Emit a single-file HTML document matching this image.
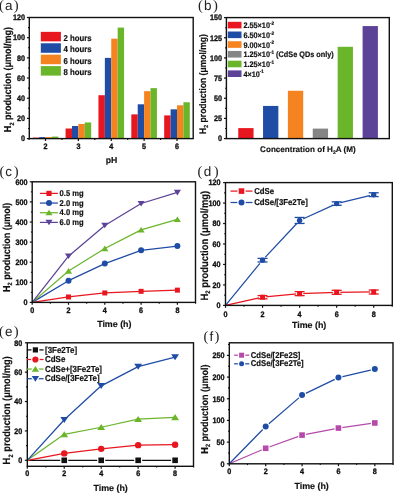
<!DOCTYPE html><html><head><meta charset="utf-8"><style>html,body{margin:0;padding:0;background:#fff;width:394px;height:493px;overflow:hidden}svg{display:block;filter:blur(0.25px)}</style></head><body>
<svg width="394" height="493" viewBox="0 0 394 493" font-family='"Liberation Sans", sans-serif' text-rendering="geometricPrecision">
<rect width="394" height="493" fill="#fff"/>
<rect x="32.70" y="137.59" width="6.40" height="1.01" fill="#e8161f"/>
<rect x="39.10" y="137.09" width="6.40" height="1.51" fill="#1f4ca5"/>
<rect x="45.50" y="137.09" width="6.40" height="1.51" fill="#f5831f"/>
<rect x="51.90" y="136.58" width="6.40" height="2.02" fill="#6bb52b"/>
<rect x="65.58" y="128.51" width="6.40" height="10.09" fill="#e8161f"/>
<rect x="71.98" y="125.99" width="6.40" height="12.61" fill="#1f4ca5"/>
<rect x="78.38" y="123.97" width="6.40" height="14.63" fill="#f5831f"/>
<rect x="84.78" y="122.45" width="6.40" height="16.15" fill="#6bb52b"/>
<rect x="98.45" y="95.21" width="6.40" height="43.39" fill="#e8161f"/>
<rect x="104.85" y="57.87" width="6.40" height="80.73" fill="#1f4ca5"/>
<rect x="111.25" y="38.69" width="6.40" height="99.91" fill="#f5831f"/>
<rect x="117.65" y="27.59" width="6.40" height="111.01" fill="#6bb52b"/>
<rect x="131.32" y="114.38" width="6.40" height="24.22" fill="#e8161f"/>
<rect x="137.72" y="104.29" width="6.40" height="34.31" fill="#1f4ca5"/>
<rect x="144.12" y="91.17" width="6.40" height="47.43" fill="#f5831f"/>
<rect x="150.52" y="88.14" width="6.40" height="50.46" fill="#6bb52b"/>
<rect x="164.20" y="115.39" width="6.40" height="23.21" fill="#e8161f"/>
<rect x="170.60" y="109.33" width="6.40" height="29.27" fill="#1f4ca5"/>
<rect x="177.00" y="105.30" width="6.40" height="33.30" fill="#f5831f"/>
<rect x="183.40" y="102.27" width="6.40" height="36.33" fill="#6bb52b"/>
<rect x="29.30" y="17.50" width="163.90" height="121.10" fill="none" stroke="#111" stroke-width="1.4"/>
<line x1="26.90" y1="138.60" x2="29.30" y2="138.60" stroke="#111" stroke-width="1.2"/>
<text transform="translate(25.00,141.35) scale(1,1.1)" font-size="7.2" text-anchor="end" font-weight="bold" fill="#111" stroke="#111" stroke-width="0.32" >0</text>
<line x1="26.90" y1="118.42" x2="29.30" y2="118.42" stroke="#111" stroke-width="1.2"/>
<text transform="translate(25.00,121.17) scale(1,1.1)" font-size="7.2" text-anchor="end" font-weight="bold" fill="#111" stroke="#111" stroke-width="0.32" >20</text>
<line x1="26.90" y1="98.23" x2="29.30" y2="98.23" stroke="#111" stroke-width="1.2"/>
<text transform="translate(25.00,100.98) scale(1,1.1)" font-size="7.2" text-anchor="end" font-weight="bold" fill="#111" stroke="#111" stroke-width="0.32" >40</text>
<line x1="26.90" y1="78.05" x2="29.30" y2="78.05" stroke="#111" stroke-width="1.2"/>
<text transform="translate(25.00,80.80) scale(1,1.1)" font-size="7.2" text-anchor="end" font-weight="bold" fill="#111" stroke="#111" stroke-width="0.32" >60</text>
<line x1="26.90" y1="57.87" x2="29.30" y2="57.87" stroke="#111" stroke-width="1.2"/>
<text transform="translate(25.00,60.62) scale(1,1.1)" font-size="7.2" text-anchor="end" font-weight="bold" fill="#111" stroke="#111" stroke-width="0.32" >80</text>
<line x1="26.90" y1="37.68" x2="29.30" y2="37.68" stroke="#111" stroke-width="1.2"/>
<text transform="translate(25.00,40.43) scale(1,1.1)" font-size="7.2" text-anchor="end" font-weight="bold" fill="#111" stroke="#111" stroke-width="0.32" >100</text>
<line x1="26.90" y1="17.50" x2="29.30" y2="17.50" stroke="#111" stroke-width="1.2"/>
<text transform="translate(25.00,20.25) scale(1,1.1)" font-size="7.2" text-anchor="end" font-weight="bold" fill="#111" stroke="#111" stroke-width="0.32" >120</text>
<line x1="28.00" y1="128.51" x2="29.30" y2="128.51" stroke="#111" stroke-width="1.1"/>
<line x1="28.00" y1="108.32" x2="29.30" y2="108.32" stroke="#111" stroke-width="1.1"/>
<line x1="28.00" y1="88.14" x2="29.30" y2="88.14" stroke="#111" stroke-width="1.1"/>
<line x1="28.00" y1="67.96" x2="29.30" y2="67.96" stroke="#111" stroke-width="1.1"/>
<line x1="28.00" y1="47.77" x2="29.30" y2="47.77" stroke="#111" stroke-width="1.1"/>
<line x1="28.00" y1="27.59" x2="29.30" y2="27.59" stroke="#111" stroke-width="1.1"/>
<line x1="45.50" y1="138.60" x2="45.50" y2="141.00" stroke="#111" stroke-width="1.2"/>
<text transform="translate(45.50,148.80) scale(1,1.1)" font-size="7.2" text-anchor="middle" font-weight="bold" fill="#111" stroke="#111" stroke-width="0.32" >2</text>
<line x1="78.38" y1="138.60" x2="78.38" y2="141.00" stroke="#111" stroke-width="1.2"/>
<text transform="translate(78.38,148.80) scale(1,1.1)" font-size="7.2" text-anchor="middle" font-weight="bold" fill="#111" stroke="#111" stroke-width="0.32" >3</text>
<line x1="111.25" y1="138.60" x2="111.25" y2="141.00" stroke="#111" stroke-width="1.2"/>
<text transform="translate(111.25,148.80) scale(1,1.1)" font-size="7.2" text-anchor="middle" font-weight="bold" fill="#111" stroke="#111" stroke-width="0.32" >4</text>
<line x1="144.12" y1="138.60" x2="144.12" y2="141.00" stroke="#111" stroke-width="1.2"/>
<text transform="translate(144.12,148.80) scale(1,1.1)" font-size="7.2" text-anchor="middle" font-weight="bold" fill="#111" stroke="#111" stroke-width="0.32" >5</text>
<line x1="177.00" y1="138.60" x2="177.00" y2="141.00" stroke="#111" stroke-width="1.2"/>
<text transform="translate(177.00,148.80) scale(1,1.1)" font-size="7.2" text-anchor="middle" font-weight="bold" fill="#111" stroke="#111" stroke-width="0.32" >6</text>
<line x1="29.06" y1="138.60" x2="29.06" y2="139.90" stroke="#111" stroke-width="1.1"/>
<line x1="61.94" y1="138.60" x2="61.94" y2="139.90" stroke="#111" stroke-width="1.1"/>
<line x1="94.81" y1="138.60" x2="94.81" y2="139.90" stroke="#111" stroke-width="1.1"/>
<line x1="127.69" y1="138.60" x2="127.69" y2="139.90" stroke="#111" stroke-width="1.1"/>
<line x1="160.56" y1="138.60" x2="160.56" y2="139.90" stroke="#111" stroke-width="1.1"/>
<rect x="40.8" y="31.85" width="20.1" height="9.5" fill="#e8161f"/>
<text transform="translate(63.40,40.75) scale(1,1.1)" font-size="7.8" text-anchor="start" font-weight="bold" fill="#111" stroke="#111" stroke-width="0.18" >2 hours</text>
<rect x="40.8" y="43.27" width="20.1" height="9.5" fill="#1f4ca5"/>
<text transform="translate(63.40,52.17) scale(1,1.1)" font-size="7.8" text-anchor="start" font-weight="bold" fill="#111" stroke="#111" stroke-width="0.18" >4 hours</text>
<rect x="40.8" y="54.69" width="20.1" height="9.5" fill="#f5831f"/>
<text transform="translate(63.40,63.59) scale(1,1.1)" font-size="7.8" text-anchor="start" font-weight="bold" fill="#111" stroke="#111" stroke-width="0.18" >6 hours</text>
<rect x="40.8" y="66.11" width="20.1" height="9.5" fill="#6bb52b"/>
<text transform="translate(63.40,75.01) scale(1,1.1)" font-size="7.8" text-anchor="start" font-weight="bold" fill="#111" stroke="#111" stroke-width="0.18" >8 hours</text>
<text transform="translate(111.45,162.80) scale(1,1.0)" font-size="8.7" text-anchor="middle" font-weight="bold" fill="#111" stroke="#111" stroke-width="0.15" >pH</text>
<text transform="translate(11.20,132.20) scale(1.12,1) rotate(-90)" font-size="9.0" font-weight="bold" fill="#111" stroke="#111" stroke-width="0.15">H<tspan font-size="5.58" dy="2.25" dx="0.2">2</tspan><tspan dy="-2.25"> production (μmol/mg)</tspan></text>
<text x="-1.00" y="10.20" font-size="13.5" fill="#222"><tspan font-family="Liberation Serif" font-size="14.58">(</tspan><tspan dx="1.1">a</tspan><tspan dx="1.3" font-family="Liberation Serif" font-size="14.58">)</tspan></text>
<rect x="238.25" y="128.11" width="15.3" height="10.49" fill="#e8161f"/>
<rect x="263.05" y="105.93" width="15.3" height="32.67" fill="#1f4ca5"/>
<rect x="287.90" y="90.76" width="15.3" height="47.84" fill="#f5831f"/>
<rect x="312.75" y="128.60" width="15.3" height="10.00" fill="#858585"/>
<rect x="337.65" y="46.80" width="15.3" height="91.80" fill="#6bb52b"/>
<rect x="362.60" y="26.07" width="15.3" height="112.53" fill="#5c4398"/>
<rect x="226.40" y="17.60" width="162.90" height="121.00" fill="none" stroke="#111" stroke-width="1.4"/>
<line x1="224.00" y1="138.60" x2="226.40" y2="138.60" stroke="#111" stroke-width="1.2"/>
<text transform="translate(221.90,141.35) scale(1,1.1)" font-size="7.2" text-anchor="end" font-weight="bold" fill="#111" stroke="#111" stroke-width="0.32" >0</text>
<line x1="224.00" y1="118.43" x2="226.40" y2="118.43" stroke="#111" stroke-width="1.2"/>
<text transform="translate(221.90,121.18) scale(1,1.1)" font-size="7.2" text-anchor="end" font-weight="bold" fill="#111" stroke="#111" stroke-width="0.32" >25</text>
<line x1="224.00" y1="98.27" x2="226.40" y2="98.27" stroke="#111" stroke-width="1.2"/>
<text transform="translate(221.90,101.02) scale(1,1.1)" font-size="7.2" text-anchor="end" font-weight="bold" fill="#111" stroke="#111" stroke-width="0.32" >50</text>
<line x1="224.00" y1="78.10" x2="226.40" y2="78.10" stroke="#111" stroke-width="1.2"/>
<text transform="translate(221.90,80.85) scale(1,1.1)" font-size="7.2" text-anchor="end" font-weight="bold" fill="#111" stroke="#111" stroke-width="0.32" >75</text>
<line x1="224.00" y1="57.93" x2="226.40" y2="57.93" stroke="#111" stroke-width="1.2"/>
<text transform="translate(221.90,60.68) scale(1,1.1)" font-size="7.2" text-anchor="end" font-weight="bold" fill="#111" stroke="#111" stroke-width="0.32" >100</text>
<line x1="224.00" y1="37.77" x2="226.40" y2="37.77" stroke="#111" stroke-width="1.2"/>
<text transform="translate(221.90,40.52) scale(1,1.1)" font-size="7.2" text-anchor="end" font-weight="bold" fill="#111" stroke="#111" stroke-width="0.32" >125</text>
<line x1="224.00" y1="17.60" x2="226.40" y2="17.60" stroke="#111" stroke-width="1.2"/>
<text transform="translate(221.90,20.35) scale(1,1.1)" font-size="7.2" text-anchor="end" font-weight="bold" fill="#111" stroke="#111" stroke-width="0.32" >150</text>
<line x1="225.10" y1="128.52" x2="226.40" y2="128.52" stroke="#111" stroke-width="1.1"/>
<line x1="225.10" y1="108.35" x2="226.40" y2="108.35" stroke="#111" stroke-width="1.1"/>
<line x1="225.10" y1="88.18" x2="226.40" y2="88.18" stroke="#111" stroke-width="1.1"/>
<line x1="225.10" y1="68.02" x2="226.40" y2="68.02" stroke="#111" stroke-width="1.1"/>
<line x1="225.10" y1="47.85" x2="226.40" y2="47.85" stroke="#111" stroke-width="1.1"/>
<line x1="225.10" y1="27.68" x2="226.40" y2="27.68" stroke="#111" stroke-width="1.1"/>
<rect x="227.8" y="21.80" width="13.7" height="6.6" fill="#e8161f"/>
<text transform="translate(243.4,28.30) scale(1,1.1)" font-size="7.3" font-weight="bold" fill="#111" stroke="#111" stroke-width="0.18">2.55×10<tspan font-size="4.6" dy="-3.2">-2</tspan><tspan dy="3.2"></tspan></text>
<rect x="227.8" y="31.52" width="13.7" height="6.6" fill="#1f4ca5"/>
<text transform="translate(243.4,38.02) scale(1,1.1)" font-size="7.3" font-weight="bold" fill="#111" stroke="#111" stroke-width="0.18">6.50×10<tspan font-size="4.6" dy="-3.2">-2</tspan><tspan dy="3.2"></tspan></text>
<rect x="227.8" y="41.24" width="13.7" height="6.6" fill="#f5831f"/>
<text transform="translate(243.4,47.74) scale(1,1.1)" font-size="7.3" font-weight="bold" fill="#111" stroke="#111" stroke-width="0.18">9.00×10<tspan font-size="4.6" dy="-3.2">-2</tspan><tspan dy="3.2"></tspan></text>
<rect x="227.8" y="50.96" width="13.7" height="6.6" fill="#858585"/>
<text transform="translate(243.4,57.46) scale(1,1.1)" font-size="7.3" font-weight="bold" fill="#111" stroke="#111" stroke-width="0.18">1.25×10<tspan font-size="4.6" dy="-3.2">-1</tspan><tspan dy="3.2"> (CdSe QDs only)</tspan></text>
<rect x="227.8" y="60.68" width="13.7" height="6.6" fill="#6bb52b"/>
<text transform="translate(243.4,67.18) scale(1,1.1)" font-size="7.3" font-weight="bold" fill="#111" stroke="#111" stroke-width="0.18">1.25×10<tspan font-size="4.6" dy="-3.2">-1</tspan><tspan dy="3.2"></tspan></text>
<rect x="227.8" y="70.40" width="13.7" height="6.6" fill="#5c4398"/>
<text transform="translate(243.4,76.90) scale(1,1.1)" font-size="7.3" font-weight="bold" fill="#111" stroke="#111" stroke-width="0.18">4×10<tspan font-size="4.6" dy="-3.2">-1</tspan><tspan dy="3.2"></tspan></text>
<text x="260.1" y="152.0" font-size="8.1" font-weight="bold" fill="#111" stroke="#111" stroke-width="0.15">Concentration of H<tspan font-size="5.2" dy="2.2">2</tspan><tspan dy="-2.2">A (M)</tspan></text>
<text transform="translate(205.60,134.10) scale(1.12,1) rotate(-90)" font-size="8.55" font-weight="bold" fill="#111" stroke="#111" stroke-width="0.15">H<tspan font-size="5.30" dy="2.14" dx="0.2">2</tspan><tspan dy="-2.14"> production (μmol/mg)</tspan></text>
<text x="198.10" y="10.20" font-size="13.5" fill="#222"><tspan font-family="Liberation Serif" font-size="14.58">(</tspan><tspan dx="1.1">b</tspan><tspan dx="1.3" font-family="Liberation Serif" font-size="14.58">)</tspan></text>
<polyline points="32.20,302.40 68.50,296.97 104.80,292.95 141.10,291.34 177.40,290.14" fill="none" stroke="#e8161f" stroke-width="1.25" stroke-linejoin="round"/>
<rect x="66.00" y="294.47" width="5.00" height="5.00" fill="#e8161f"/>
<rect x="102.30" y="290.45" width="5.00" height="5.00" fill="#e8161f"/>
<rect x="138.60" y="288.84" width="5.00" height="5.00" fill="#e8161f"/>
<rect x="174.90" y="287.64" width="5.00" height="5.00" fill="#e8161f"/>
<polyline points="32.20,302.40 68.50,280.69 104.80,263.61 141.10,250.34 177.40,246.12" fill="none" stroke="#1f4ca5" stroke-width="1.25" stroke-linejoin="round"/>
<circle cx="68.50" cy="280.69" r="3.00" fill="#1f4ca5"/>
<circle cx="104.80" cy="263.61" r="3.00" fill="#1f4ca5"/>
<circle cx="141.10" cy="250.34" r="3.00" fill="#1f4ca5"/>
<circle cx="177.40" cy="246.12" r="3.00" fill="#1f4ca5"/>
<polyline points="32.20,302.40 68.50,271.04 104.80,248.53 141.10,229.84 177.40,219.39" fill="none" stroke="#6bb52b" stroke-width="1.25" stroke-linejoin="round"/>
<path d="M64.92,273.67 L72.08,273.67 L68.50,268.12 Z" fill="#6bb52b"/>
<path d="M101.22,251.16 L108.38,251.16 L104.80,245.61 Z" fill="#6bb52b"/>
<path d="M137.52,232.46 L144.68,232.46 L141.10,226.91 Z" fill="#6bb52b"/>
<path d="M173.82,222.01 L180.98,222.01 L177.40,216.46 Z" fill="#6bb52b"/>
<polyline points="32.20,302.40 68.50,256.17 104.80,225.42 141.10,203.51 177.40,192.45" fill="none" stroke="#5c4398" stroke-width="1.25" stroke-linejoin="round"/>
<path d="M64.92,253.55 L72.08,253.55 L68.50,259.09 Z" fill="#5c4398"/>
<path d="M101.22,222.79 L108.38,222.79 L104.80,228.34 Z" fill="#5c4398"/>
<path d="M137.52,200.88 L144.68,200.88 L141.10,206.43 Z" fill="#5c4398"/>
<path d="M173.82,189.83 L180.98,189.83 L177.40,195.38 Z" fill="#5c4398"/>
<rect x="32.20" y="181.80" width="163.30" height="120.60" fill="none" stroke="#111" stroke-width="1.4"/>
<line x1="29.80" y1="302.40" x2="32.20" y2="302.40" stroke="#111" stroke-width="1.2"/>
<text transform="translate(27.40,305.15) scale(1,1.1)" font-size="7.2" text-anchor="end" font-weight="bold" fill="#111" stroke="#111" stroke-width="0.32" >0</text>
<line x1="29.80" y1="282.30" x2="32.20" y2="282.30" stroke="#111" stroke-width="1.2"/>
<text transform="translate(27.40,285.05) scale(1,1.1)" font-size="7.2" text-anchor="end" font-weight="bold" fill="#111" stroke="#111" stroke-width="0.32" >100</text>
<line x1="29.80" y1="262.20" x2="32.20" y2="262.20" stroke="#111" stroke-width="1.2"/>
<text transform="translate(27.40,264.95) scale(1,1.1)" font-size="7.2" text-anchor="end" font-weight="bold" fill="#111" stroke="#111" stroke-width="0.32" >200</text>
<line x1="29.80" y1="242.10" x2="32.20" y2="242.10" stroke="#111" stroke-width="1.2"/>
<text transform="translate(27.40,244.85) scale(1,1.1)" font-size="7.2" text-anchor="end" font-weight="bold" fill="#111" stroke="#111" stroke-width="0.32" >300</text>
<line x1="29.80" y1="222.00" x2="32.20" y2="222.00" stroke="#111" stroke-width="1.2"/>
<text transform="translate(27.40,224.75) scale(1,1.1)" font-size="7.2" text-anchor="end" font-weight="bold" fill="#111" stroke="#111" stroke-width="0.32" >400</text>
<line x1="29.80" y1="201.90" x2="32.20" y2="201.90" stroke="#111" stroke-width="1.2"/>
<text transform="translate(27.40,204.65) scale(1,1.1)" font-size="7.2" text-anchor="end" font-weight="bold" fill="#111" stroke="#111" stroke-width="0.32" >500</text>
<line x1="29.80" y1="181.80" x2="32.20" y2="181.80" stroke="#111" stroke-width="1.2"/>
<text transform="translate(27.40,184.55) scale(1,1.1)" font-size="7.2" text-anchor="end" font-weight="bold" fill="#111" stroke="#111" stroke-width="0.32" >600</text>
<line x1="30.90" y1="292.35" x2="32.20" y2="292.35" stroke="#111" stroke-width="1.1"/>
<line x1="30.90" y1="272.25" x2="32.20" y2="272.25" stroke="#111" stroke-width="1.1"/>
<line x1="30.90" y1="252.15" x2="32.20" y2="252.15" stroke="#111" stroke-width="1.1"/>
<line x1="30.90" y1="232.05" x2="32.20" y2="232.05" stroke="#111" stroke-width="1.1"/>
<line x1="30.90" y1="211.95" x2="32.20" y2="211.95" stroke="#111" stroke-width="1.1"/>
<line x1="30.90" y1="191.85" x2="32.20" y2="191.85" stroke="#111" stroke-width="1.1"/>
<line x1="32.20" y1="302.40" x2="32.20" y2="304.80" stroke="#111" stroke-width="1.2"/>
<text transform="translate(32.20,312.50) scale(1,1.1)" font-size="7.2" text-anchor="middle" font-weight="bold" fill="#111" stroke="#111" stroke-width="0.32" >0</text>
<line x1="68.50" y1="302.40" x2="68.50" y2="304.80" stroke="#111" stroke-width="1.2"/>
<text transform="translate(68.50,312.50) scale(1,1.1)" font-size="7.2" text-anchor="middle" font-weight="bold" fill="#111" stroke="#111" stroke-width="0.32" >2</text>
<line x1="104.80" y1="302.40" x2="104.80" y2="304.80" stroke="#111" stroke-width="1.2"/>
<text transform="translate(104.80,312.50) scale(1,1.1)" font-size="7.2" text-anchor="middle" font-weight="bold" fill="#111" stroke="#111" stroke-width="0.32" >4</text>
<line x1="141.10" y1="302.40" x2="141.10" y2="304.80" stroke="#111" stroke-width="1.2"/>
<text transform="translate(141.10,312.50) scale(1,1.1)" font-size="7.2" text-anchor="middle" font-weight="bold" fill="#111" stroke="#111" stroke-width="0.32" >6</text>
<line x1="177.40" y1="302.40" x2="177.40" y2="304.80" stroke="#111" stroke-width="1.2"/>
<text transform="translate(177.40,312.50) scale(1,1.1)" font-size="7.2" text-anchor="middle" font-weight="bold" fill="#111" stroke="#111" stroke-width="0.32" >8</text>
<line x1="50.35" y1="302.40" x2="50.35" y2="303.70" stroke="#111" stroke-width="1.1"/>
<line x1="86.65" y1="302.40" x2="86.65" y2="303.70" stroke="#111" stroke-width="1.1"/>
<line x1="122.95" y1="302.40" x2="122.95" y2="303.70" stroke="#111" stroke-width="1.1"/>
<line x1="159.25" y1="302.40" x2="159.25" y2="303.70" stroke="#111" stroke-width="1.1"/>
<line x1="195.55" y1="302.40" x2="195.55" y2="303.70" stroke="#111" stroke-width="1.1"/>
<line x1="39.90" y1="193.40" x2="57.90" y2="193.40" stroke="#e8161f" stroke-width="1.25"/>
<rect x="46.40" y="190.80" width="5.20" height="5.20" fill="#e8161f"/>
<text transform="translate(59.60,196.10) scale(1,1.1)" font-size="7.6" text-anchor="start" font-weight="bold" fill="#111" stroke="#111" stroke-width="0.18" >0.5 mg</text>
<line x1="39.90" y1="203.07" x2="57.90" y2="203.07" stroke="#1f4ca5" stroke-width="1.25"/>
<circle cx="49.00" cy="203.07" r="3.00" fill="#1f4ca5"/>
<text transform="translate(59.60,205.77) scale(1,1.1)" font-size="7.6" text-anchor="start" font-weight="bold" fill="#111" stroke="#111" stroke-width="0.18" >2.0 mg</text>
<line x1="39.90" y1="212.74" x2="57.90" y2="212.74" stroke="#6bb52b" stroke-width="1.25"/>
<path d="M45.42,215.36 L52.58,215.36 L49.00,209.82 Z" fill="#6bb52b"/>
<text transform="translate(59.60,215.44) scale(1,1.1)" font-size="7.6" text-anchor="start" font-weight="bold" fill="#111" stroke="#111" stroke-width="0.18" >4.0 mg</text>
<line x1="39.90" y1="222.41" x2="57.90" y2="222.41" stroke="#5c4398" stroke-width="1.25"/>
<path d="M45.42,219.79 L52.58,219.79 L49.00,225.33 Z" fill="#5c4398"/>
<text transform="translate(59.60,225.11) scale(1,1.1)" font-size="7.6" text-anchor="start" font-weight="bold" fill="#111" stroke="#111" stroke-width="0.18" >6.0 mg</text>
<text transform="translate(114.30,327.20) scale(1,1.0)" font-size="8.9" text-anchor="middle" font-weight="bold" fill="#111" stroke="#111" stroke-width="0.15" >Time (h)</text>
<text transform="translate(9.90,292.10) scale(1.12,1) rotate(-90)" font-size="9.0" font-weight="bold" fill="#111" stroke="#111" stroke-width="0.15">H<tspan font-size="5.58" dy="2.25" dx="0.2">2</tspan><tspan dy="-2.25"> production (μmol)</tspan></text>
<text x="-0.60" y="176.40" font-size="13.5" fill="#222"><tspan font-family="Liberation Serif" font-size="14.58">(</tspan><tspan dx="1.1">c</tspan><tspan dx="1.6" font-family="Liberation Serif" font-size="14.58">)</tspan></text>
<polyline points="225.50,305.40 262.55,297.21 299.60,293.63 336.65,292.30 373.70,291.99" fill="none" stroke="#e8161f" stroke-width="1.25" stroke-linejoin="round"/>
<rect x="260.05" y="294.71" width="5.00" height="5.00" fill="#e8161f" stroke="#fff" stroke-width="2.4" paint-order="stroke"/>
<rect x="297.10" y="291.13" width="5.00" height="5.00" fill="#e8161f" stroke="#fff" stroke-width="2.4" paint-order="stroke"/>
<rect x="334.15" y="289.80" width="5.00" height="5.00" fill="#e8161f" stroke="#fff" stroke-width="2.4" paint-order="stroke"/>
<rect x="371.20" y="289.49" width="5.00" height="5.00" fill="#e8161f" stroke="#fff" stroke-width="2.4" paint-order="stroke"/>
<polyline points="225.50,305.40 262.55,260.17 299.60,220.46 336.65,203.58 373.70,194.68" fill="none" stroke="#1f4ca5" stroke-width="1.25" stroke-linejoin="round"/>
<circle cx="262.55" cy="260.17" r="2.70" fill="#1f4ca5" stroke="#fff" stroke-width="2.4" paint-order="stroke"/>
<circle cx="299.60" cy="220.46" r="2.70" fill="#1f4ca5" stroke="#fff" stroke-width="2.4" paint-order="stroke"/>
<circle cx="336.65" cy="203.58" r="2.70" fill="#1f4ca5" stroke="#fff" stroke-width="2.4" paint-order="stroke"/>
<circle cx="373.70" cy="194.68" r="2.70" fill="#1f4ca5" stroke="#fff" stroke-width="2.4" paint-order="stroke"/>
<line x1="257.55" y1="295.61" x2="267.55" y2="295.61" stroke="#e8161f" stroke-width="1.3"/>
<line x1="257.55" y1="298.81" x2="267.55" y2="298.81" stroke="#e8161f" stroke-width="1.3"/>
<line x1="294.60" y1="291.63" x2="304.60" y2="291.63" stroke="#e8161f" stroke-width="1.3"/>
<line x1="294.60" y1="295.63" x2="304.60" y2="295.63" stroke="#e8161f" stroke-width="1.3"/>
<line x1="331.65" y1="290.30" x2="341.65" y2="290.30" stroke="#e8161f" stroke-width="1.3"/>
<line x1="331.65" y1="294.30" x2="341.65" y2="294.30" stroke="#e8161f" stroke-width="1.3"/>
<line x1="368.70" y1="289.99" x2="378.70" y2="289.99" stroke="#e8161f" stroke-width="1.3"/>
<line x1="368.70" y1="293.99" x2="378.70" y2="293.99" stroke="#e8161f" stroke-width="1.3"/>
<line x1="257.55" y1="258.37" x2="267.55" y2="258.37" stroke="#1f4ca5" stroke-width="1.3"/>
<line x1="257.55" y1="261.97" x2="267.55" y2="261.97" stroke="#1f4ca5" stroke-width="1.3"/>
<line x1="294.60" y1="217.46" x2="304.60" y2="217.46" stroke="#1f4ca5" stroke-width="1.3"/>
<line x1="294.60" y1="223.46" x2="304.60" y2="223.46" stroke="#1f4ca5" stroke-width="1.3"/>
<line x1="331.65" y1="201.83" x2="341.65" y2="201.83" stroke="#1f4ca5" stroke-width="1.3"/>
<line x1="331.65" y1="205.33" x2="341.65" y2="205.33" stroke="#1f4ca5" stroke-width="1.3"/>
<line x1="368.70" y1="192.78" x2="378.70" y2="192.78" stroke="#1f4ca5" stroke-width="1.3"/>
<line x1="368.70" y1="196.58" x2="378.70" y2="196.58" stroke="#1f4ca5" stroke-width="1.3"/>
<rect x="225.50" y="182.60" width="166.80" height="122.80" fill="none" stroke="#111" stroke-width="1.4"/>
<line x1="223.10" y1="305.40" x2="225.50" y2="305.40" stroke="#111" stroke-width="1.2"/>
<text transform="translate(220.40,308.15) scale(1,1.1)" font-size="7.2" text-anchor="end" font-weight="bold" fill="#111" stroke="#111" stroke-width="0.32" >0</text>
<line x1="223.10" y1="284.93" x2="225.50" y2="284.93" stroke="#111" stroke-width="1.2"/>
<text transform="translate(220.40,287.68) scale(1,1.1)" font-size="7.2" text-anchor="end" font-weight="bold" fill="#111" stroke="#111" stroke-width="0.32" >20</text>
<line x1="223.10" y1="264.47" x2="225.50" y2="264.47" stroke="#111" stroke-width="1.2"/>
<text transform="translate(220.40,267.22) scale(1,1.1)" font-size="7.2" text-anchor="end" font-weight="bold" fill="#111" stroke="#111" stroke-width="0.32" >40</text>
<line x1="223.10" y1="244.00" x2="225.50" y2="244.00" stroke="#111" stroke-width="1.2"/>
<text transform="translate(220.40,246.75) scale(1,1.1)" font-size="7.2" text-anchor="end" font-weight="bold" fill="#111" stroke="#111" stroke-width="0.32" >60</text>
<line x1="223.10" y1="223.53" x2="225.50" y2="223.53" stroke="#111" stroke-width="1.2"/>
<text transform="translate(220.40,226.28) scale(1,1.1)" font-size="7.2" text-anchor="end" font-weight="bold" fill="#111" stroke="#111" stroke-width="0.32" >80</text>
<line x1="223.10" y1="203.07" x2="225.50" y2="203.07" stroke="#111" stroke-width="1.2"/>
<text transform="translate(220.40,205.82) scale(1,1.1)" font-size="7.2" text-anchor="end" font-weight="bold" fill="#111" stroke="#111" stroke-width="0.32" >100</text>
<line x1="223.10" y1="182.60" x2="225.50" y2="182.60" stroke="#111" stroke-width="1.2"/>
<text transform="translate(220.40,185.35) scale(1,1.1)" font-size="7.2" text-anchor="end" font-weight="bold" fill="#111" stroke="#111" stroke-width="0.32" >120</text>
<line x1="224.20" y1="295.17" x2="225.50" y2="295.17" stroke="#111" stroke-width="1.1"/>
<line x1="224.20" y1="274.70" x2="225.50" y2="274.70" stroke="#111" stroke-width="1.1"/>
<line x1="224.20" y1="254.23" x2="225.50" y2="254.23" stroke="#111" stroke-width="1.1"/>
<line x1="224.20" y1="233.77" x2="225.50" y2="233.77" stroke="#111" stroke-width="1.1"/>
<line x1="224.20" y1="213.30" x2="225.50" y2="213.30" stroke="#111" stroke-width="1.1"/>
<line x1="224.20" y1="192.83" x2="225.50" y2="192.83" stroke="#111" stroke-width="1.1"/>
<line x1="225.50" y1="305.40" x2="225.50" y2="307.80" stroke="#111" stroke-width="1.2"/>
<text transform="translate(225.50,316.50) scale(1,1.1)" font-size="7.2" text-anchor="middle" font-weight="bold" fill="#111" stroke="#111" stroke-width="0.32" >0</text>
<line x1="262.55" y1="305.40" x2="262.55" y2="307.80" stroke="#111" stroke-width="1.2"/>
<text transform="translate(262.55,316.50) scale(1,1.1)" font-size="7.2" text-anchor="middle" font-weight="bold" fill="#111" stroke="#111" stroke-width="0.32" >2</text>
<line x1="299.60" y1="305.40" x2="299.60" y2="307.80" stroke="#111" stroke-width="1.2"/>
<text transform="translate(299.60,316.50) scale(1,1.1)" font-size="7.2" text-anchor="middle" font-weight="bold" fill="#111" stroke="#111" stroke-width="0.32" >4</text>
<line x1="336.65" y1="305.40" x2="336.65" y2="307.80" stroke="#111" stroke-width="1.2"/>
<text transform="translate(336.65,316.50) scale(1,1.1)" font-size="7.2" text-anchor="middle" font-weight="bold" fill="#111" stroke="#111" stroke-width="0.32" >6</text>
<line x1="373.70" y1="305.40" x2="373.70" y2="307.80" stroke="#111" stroke-width="1.2"/>
<text transform="translate(373.70,316.50) scale(1,1.1)" font-size="7.2" text-anchor="middle" font-weight="bold" fill="#111" stroke="#111" stroke-width="0.32" >8</text>
<line x1="244.03" y1="305.40" x2="244.03" y2="306.70" stroke="#111" stroke-width="1.1"/>
<line x1="281.07" y1="305.40" x2="281.07" y2="306.70" stroke="#111" stroke-width="1.1"/>
<line x1="318.12" y1="305.40" x2="318.12" y2="306.70" stroke="#111" stroke-width="1.1"/>
<line x1="355.17" y1="305.40" x2="355.17" y2="306.70" stroke="#111" stroke-width="1.1"/>
<line x1="392.23" y1="305.40" x2="392.23" y2="306.70" stroke="#111" stroke-width="1.1"/>
<line x1="230.50" y1="191.10" x2="252.50" y2="191.10" stroke="#e8161f" stroke-width="1.25"/>
<rect x="238.70" y="188.30" width="5.60" height="5.60" fill="#e8161f" stroke="#fff" stroke-width="2.6" paint-order="stroke"/>
<text transform="translate(254.20,193.80) scale(1,1.1)" font-size="7.8" text-anchor="start" font-weight="bold" fill="#111" stroke="#111" stroke-width="0.18" >CdSe</text>
<line x1="230.50" y1="202.50" x2="252.50" y2="202.50" stroke="#1f4ca5" stroke-width="1.25"/>
<circle cx="241.50" cy="202.50" r="3.00" fill="#1f4ca5" stroke="#fff" stroke-width="2.6" paint-order="stroke"/>
<text transform="translate(254.20,205.20) scale(1,1.1)" font-size="7.8" text-anchor="start" font-weight="bold" fill="#111" stroke="#111" stroke-width="0.18" >CdSe/[3Fe2Te]</text>
<text transform="translate(309.10,327.50) scale(1,1.0)" font-size="8.9" text-anchor="middle" font-weight="bold" fill="#111" stroke="#111" stroke-width="0.15" >Time (h)</text>
<text transform="translate(207.80,300.60) scale(1.12,1) rotate(-90)" font-size="9.4" font-weight="bold" fill="#111" stroke="#111" stroke-width="0.15">H<tspan font-size="5.83" dy="2.35" dx="0.2">2</tspan><tspan dy="-2.35"> production (μmol/mg)</tspan></text>
<text x="197.60" y="176.30" font-size="13.5" fill="#222"><tspan font-family="Liberation Serif" font-size="14.58">(</tspan><tspan dx="1.3">d</tspan><tspan dx="2.4" font-family="Liberation Serif" font-size="14.58">)</tspan></text>
<polyline points="27.30,460.30 64.25,460.30 101.20,460.30 138.15,460.30 175.10,460.30" fill="none" stroke="#111" stroke-width="1.25" stroke-linejoin="round"/>
<rect x="61.45" y="457.50" width="5.60" height="5.60" fill="#111" stroke="#fff" stroke-width="2.4" paint-order="stroke"/>
<rect x="98.40" y="457.50" width="5.60" height="5.60" fill="#111" stroke="#fff" stroke-width="2.4" paint-order="stroke"/>
<rect x="135.35" y="457.50" width="5.60" height="5.60" fill="#111" stroke="#fff" stroke-width="2.4" paint-order="stroke"/>
<rect x="172.30" y="457.50" width="5.60" height="5.60" fill="#111" stroke="#fff" stroke-width="2.4" paint-order="stroke"/>
<polyline points="27.30,460.30 64.25,453.40 101.20,448.84 138.15,445.17 175.10,444.73" fill="none" stroke="#e8161f" stroke-width="1.25" stroke-linejoin="round"/>
<circle cx="64.25" cy="453.40" r="3.20" fill="#e8161f"/>
<circle cx="101.20" cy="448.84" r="3.20" fill="#e8161f"/>
<circle cx="138.15" cy="445.17" r="3.20" fill="#e8161f"/>
<circle cx="175.10" cy="444.73" r="3.20" fill="#e8161f"/>
<polyline points="27.30,460.30 64.25,434.30 101.20,427.25 138.15,419.18 175.10,417.27" fill="none" stroke="#6bb52b" stroke-width="1.25" stroke-linejoin="round"/>
<path d="M60.33,437.17 L68.17,437.17 L64.25,431.13 Z" fill="#6bb52b"/>
<path d="M97.28,430.12 L105.12,430.12 L101.20,424.08 Z" fill="#6bb52b"/>
<path d="M134.23,422.05 L142.07,422.05 L138.15,416.00 Z" fill="#6bb52b"/>
<path d="M171.18,420.14 L179.02,420.14 L175.10,414.10 Z" fill="#6bb52b"/>
<polyline points="27.30,460.30 64.25,419.76 101.20,385.83 138.15,366.59 175.10,357.19" fill="none" stroke="#1f4ca5" stroke-width="1.25" stroke-linejoin="round"/>
<path d="M60.33,416.89 L68.17,416.89 L64.25,422.93 Z" fill="#1f4ca5"/>
<path d="M97.28,382.96 L105.12,382.96 L101.20,389.00 Z" fill="#1f4ca5"/>
<path d="M134.23,363.72 L142.07,363.72 L138.15,369.76 Z" fill="#1f4ca5"/>
<path d="M171.18,354.32 L179.02,354.32 L175.10,360.36 Z" fill="#1f4ca5"/>
<rect x="27.30" y="342.80" width="166.20" height="123.50" fill="none" stroke="#111" stroke-width="1.4"/>
<line x1="24.90" y1="460.30" x2="27.30" y2="460.30" stroke="#111" stroke-width="1.2"/>
<text transform="translate(22.30,463.05) scale(1,1.1)" font-size="7.2" text-anchor="end" font-weight="bold" fill="#111" stroke="#111" stroke-width="0.32" >0</text>
<line x1="24.90" y1="430.93" x2="27.30" y2="430.93" stroke="#111" stroke-width="1.2"/>
<text transform="translate(22.30,433.68) scale(1,1.1)" font-size="7.2" text-anchor="end" font-weight="bold" fill="#111" stroke="#111" stroke-width="0.32" >20</text>
<line x1="24.90" y1="401.55" x2="27.30" y2="401.55" stroke="#111" stroke-width="1.2"/>
<text transform="translate(22.30,404.30) scale(1,1.1)" font-size="7.2" text-anchor="end" font-weight="bold" fill="#111" stroke="#111" stroke-width="0.32" >40</text>
<line x1="24.90" y1="372.18" x2="27.30" y2="372.18" stroke="#111" stroke-width="1.2"/>
<text transform="translate(22.30,374.93) scale(1,1.1)" font-size="7.2" text-anchor="end" font-weight="bold" fill="#111" stroke="#111" stroke-width="0.32" >60</text>
<line x1="24.90" y1="342.80" x2="27.30" y2="342.80" stroke="#111" stroke-width="1.2"/>
<text transform="translate(22.30,345.55) scale(1,1.1)" font-size="7.2" text-anchor="end" font-weight="bold" fill="#111" stroke="#111" stroke-width="0.32" >80</text>
<line x1="26.00" y1="445.61" x2="27.30" y2="445.61" stroke="#111" stroke-width="1.1"/>
<line x1="26.00" y1="416.24" x2="27.30" y2="416.24" stroke="#111" stroke-width="1.1"/>
<line x1="26.00" y1="386.86" x2="27.30" y2="386.86" stroke="#111" stroke-width="1.1"/>
<line x1="26.00" y1="357.49" x2="27.30" y2="357.49" stroke="#111" stroke-width="1.1"/>
<line x1="27.30" y1="466.30" x2="27.30" y2="468.70" stroke="#111" stroke-width="1.2"/>
<text transform="translate(27.30,476.00) scale(1,1.1)" font-size="7.2" text-anchor="middle" font-weight="bold" fill="#111" stroke="#111" stroke-width="0.32" >0</text>
<line x1="64.25" y1="466.30" x2="64.25" y2="468.70" stroke="#111" stroke-width="1.2"/>
<text transform="translate(64.25,476.00) scale(1,1.1)" font-size="7.2" text-anchor="middle" font-weight="bold" fill="#111" stroke="#111" stroke-width="0.32" >2</text>
<line x1="101.20" y1="466.30" x2="101.20" y2="468.70" stroke="#111" stroke-width="1.2"/>
<text transform="translate(101.20,476.00) scale(1,1.1)" font-size="7.2" text-anchor="middle" font-weight="bold" fill="#111" stroke="#111" stroke-width="0.32" >4</text>
<line x1="138.15" y1="466.30" x2="138.15" y2="468.70" stroke="#111" stroke-width="1.2"/>
<text transform="translate(138.15,476.00) scale(1,1.1)" font-size="7.2" text-anchor="middle" font-weight="bold" fill="#111" stroke="#111" stroke-width="0.32" >6</text>
<line x1="175.10" y1="466.30" x2="175.10" y2="468.70" stroke="#111" stroke-width="1.2"/>
<text transform="translate(175.10,476.00) scale(1,1.1)" font-size="7.2" text-anchor="middle" font-weight="bold" fill="#111" stroke="#111" stroke-width="0.32" >8</text>
<line x1="45.78" y1="466.30" x2="45.78" y2="467.60" stroke="#111" stroke-width="1.1"/>
<line x1="82.73" y1="466.30" x2="82.73" y2="467.60" stroke="#111" stroke-width="1.1"/>
<line x1="119.67" y1="466.30" x2="119.67" y2="467.60" stroke="#111" stroke-width="1.1"/>
<line x1="156.63" y1="466.30" x2="156.63" y2="467.60" stroke="#111" stroke-width="1.1"/>
<line x1="193.58" y1="466.30" x2="193.58" y2="467.60" stroke="#111" stroke-width="1.1"/>
<line x1="26.90" y1="349.90" x2="43.60" y2="349.90" stroke="#111" stroke-width="1.25"/>
<rect x="32.80" y="347.30" width="5.20" height="5.20" fill="#111" stroke="#fff" stroke-width="2.6" paint-order="stroke"/>
<text transform="translate(45.00,352.60) scale(1,1.1)" font-size="7.95" text-anchor="start" font-weight="bold" fill="#111" stroke="#111" stroke-width="0.18" >[3Fe2Te]</text>
<line x1="26.90" y1="359.50" x2="43.60" y2="359.50" stroke="#e8161f" stroke-width="1.25"/>
<circle cx="35.40" cy="359.50" r="3.10" fill="#e8161f" stroke="#fff" stroke-width="2.6" paint-order="stroke"/>
<text transform="translate(45.00,362.20) scale(1,1.1)" font-size="7.95" text-anchor="start" font-weight="bold" fill="#111" stroke="#111" stroke-width="0.18" >CdSe</text>
<line x1="26.90" y1="369.10" x2="43.60" y2="369.10" stroke="#6bb52b" stroke-width="1.25"/>
<path d="M31.70,371.81 L39.10,371.81 L35.40,366.09 Z" fill="#6bb52b" stroke="#fff" stroke-width="2.6" paint-order="stroke"/>
<text transform="translate(45.00,371.80) scale(1,1.1)" font-size="7.95" text-anchor="start" font-weight="bold" fill="#111" stroke="#111" stroke-width="0.18" >CdSe+[3Fe2Te]</text>
<line x1="26.90" y1="378.70" x2="43.60" y2="378.70" stroke="#1f4ca5" stroke-width="1.25"/>
<path d="M31.70,375.99 L39.10,375.99 L35.40,381.71 Z" fill="#1f4ca5" stroke="#fff" stroke-width="2.6" paint-order="stroke"/>
<text transform="translate(45.00,381.40) scale(1,1.1)" font-size="7.95" text-anchor="start" font-weight="bold" fill="#111" stroke="#111" stroke-width="0.18" >CdSe/[3Fe2Te]</text>
<text transform="translate(110.60,490.60) scale(1,1.0)" font-size="8.9" text-anchor="middle" font-weight="bold" fill="#111" stroke="#111" stroke-width="0.15" >Time (h)</text>
<text transform="translate(10.00,464.40) scale(1.12,1) rotate(-90)" font-size="9.25" font-weight="bold" fill="#111" stroke="#111" stroke-width="0.15">H<tspan font-size="5.74" dy="2.31" dx="0.2">2</tspan><tspan dy="-2.31"> production (μmol/mg)</tspan></text>
<text x="-1.00" y="335.60" font-size="13.5" fill="#222"><tspan font-family="Liberation Serif" font-size="14.58">(</tspan><tspan dx="1.1">e</tspan><tspan dx="1.3" font-family="Liberation Serif" font-size="14.58">)</tspan></text>
<polyline points="229.30,463.80 265.68,448.28 302.06,435.10 338.44,428.07 374.82,422.95" fill="none" stroke="#b54aa9" stroke-width="1.25" stroke-linejoin="round"/>
<rect x="262.88" y="445.48" width="5.60" height="5.60" fill="#b54aa9" stroke="#fff" stroke-width="2.2" paint-order="stroke"/>
<rect x="299.26" y="432.30" width="5.60" height="5.60" fill="#b54aa9" stroke="#fff" stroke-width="2.2" paint-order="stroke"/>
<rect x="335.64" y="425.27" width="5.60" height="5.60" fill="#b54aa9" stroke="#fff" stroke-width="2.2" paint-order="stroke"/>
<rect x="372.02" y="420.15" width="5.60" height="5.60" fill="#b54aa9" stroke="#fff" stroke-width="2.2" paint-order="stroke"/>
<polyline points="229.30,463.80 265.68,426.55 302.06,395.12 338.44,377.60 374.82,369.10" fill="none" stroke="#1f4ca5" stroke-width="1.25" stroke-linejoin="round"/>
<circle cx="265.68" cy="426.55" r="3.00" fill="#1f4ca5" stroke="#fff" stroke-width="2.2" paint-order="stroke"/>
<circle cx="302.06" cy="395.12" r="3.00" fill="#1f4ca5" stroke="#fff" stroke-width="2.2" paint-order="stroke"/>
<circle cx="338.44" cy="377.60" r="3.00" fill="#1f4ca5" stroke="#fff" stroke-width="2.2" paint-order="stroke"/>
<circle cx="374.82" cy="369.10" r="3.00" fill="#1f4ca5" stroke="#fff" stroke-width="2.2" paint-order="stroke"/>
<rect x="229.30" y="342.80" width="163.70" height="121.00" fill="none" stroke="#111" stroke-width="1.4"/>
<line x1="226.90" y1="463.80" x2="229.30" y2="463.80" stroke="#111" stroke-width="1.2"/>
<text transform="translate(224.60,466.55) scale(1,1.1)" font-size="7.2" text-anchor="end" font-weight="bold" fill="#111" stroke="#111" stroke-width="0.32" >0</text>
<line x1="226.90" y1="442.12" x2="229.30" y2="442.12" stroke="#111" stroke-width="1.2"/>
<text transform="translate(224.60,444.87) scale(1,1.1)" font-size="7.2" text-anchor="end" font-weight="bold" fill="#111" stroke="#111" stroke-width="0.32" >50</text>
<line x1="226.90" y1="420.44" x2="229.30" y2="420.44" stroke="#111" stroke-width="1.2"/>
<text transform="translate(224.60,423.19) scale(1,1.1)" font-size="7.2" text-anchor="end" font-weight="bold" fill="#111" stroke="#111" stroke-width="0.32" >100</text>
<line x1="226.90" y1="398.76" x2="229.30" y2="398.76" stroke="#111" stroke-width="1.2"/>
<text transform="translate(224.60,401.51) scale(1,1.1)" font-size="7.2" text-anchor="end" font-weight="bold" fill="#111" stroke="#111" stroke-width="0.32" >150</text>
<line x1="226.90" y1="377.08" x2="229.30" y2="377.08" stroke="#111" stroke-width="1.2"/>
<text transform="translate(224.60,379.83) scale(1,1.1)" font-size="7.2" text-anchor="end" font-weight="bold" fill="#111" stroke="#111" stroke-width="0.32" >200</text>
<line x1="226.90" y1="355.40" x2="229.30" y2="355.40" stroke="#111" stroke-width="1.2"/>
<text transform="translate(224.60,358.15) scale(1,1.1)" font-size="7.2" text-anchor="end" font-weight="bold" fill="#111" stroke="#111" stroke-width="0.32" >250</text>
<line x1="228.00" y1="452.96" x2="229.30" y2="452.96" stroke="#111" stroke-width="1.1"/>
<line x1="228.00" y1="431.28" x2="229.30" y2="431.28" stroke="#111" stroke-width="1.1"/>
<line x1="228.00" y1="409.60" x2="229.30" y2="409.60" stroke="#111" stroke-width="1.1"/>
<line x1="228.00" y1="387.92" x2="229.30" y2="387.92" stroke="#111" stroke-width="1.1"/>
<line x1="228.00" y1="366.24" x2="229.30" y2="366.24" stroke="#111" stroke-width="1.1"/>
<line x1="228.00" y1="344.56" x2="229.30" y2="344.56" stroke="#111" stroke-width="1.1"/>
<line x1="229.30" y1="463.80" x2="229.30" y2="466.20" stroke="#111" stroke-width="1.2"/>
<text transform="translate(229.30,474.20) scale(1,1.1)" font-size="7.2" text-anchor="middle" font-weight="bold" fill="#111" stroke="#111" stroke-width="0.32" >0</text>
<line x1="265.68" y1="463.80" x2="265.68" y2="466.20" stroke="#111" stroke-width="1.2"/>
<text transform="translate(265.68,474.20) scale(1,1.1)" font-size="7.2" text-anchor="middle" font-weight="bold" fill="#111" stroke="#111" stroke-width="0.32" >2</text>
<line x1="302.06" y1="463.80" x2="302.06" y2="466.20" stroke="#111" stroke-width="1.2"/>
<text transform="translate(302.06,474.20) scale(1,1.1)" font-size="7.2" text-anchor="middle" font-weight="bold" fill="#111" stroke="#111" stroke-width="0.32" >4</text>
<line x1="338.44" y1="463.80" x2="338.44" y2="466.20" stroke="#111" stroke-width="1.2"/>
<text transform="translate(338.44,474.20) scale(1,1.1)" font-size="7.2" text-anchor="middle" font-weight="bold" fill="#111" stroke="#111" stroke-width="0.32" >6</text>
<line x1="374.82" y1="463.80" x2="374.82" y2="466.20" stroke="#111" stroke-width="1.2"/>
<text transform="translate(374.82,474.20) scale(1,1.1)" font-size="7.2" text-anchor="middle" font-weight="bold" fill="#111" stroke="#111" stroke-width="0.32" >8</text>
<line x1="247.49" y1="463.80" x2="247.49" y2="465.10" stroke="#111" stroke-width="1.1"/>
<line x1="283.87" y1="463.80" x2="283.87" y2="465.10" stroke="#111" stroke-width="1.1"/>
<line x1="320.25" y1="463.80" x2="320.25" y2="465.10" stroke="#111" stroke-width="1.1"/>
<line x1="356.63" y1="463.80" x2="356.63" y2="465.10" stroke="#111" stroke-width="1.1"/>
<line x1="393.01" y1="463.80" x2="393.01" y2="465.10" stroke="#111" stroke-width="1.1"/>
<line x1="234.10" y1="355.20" x2="249.30" y2="355.20" stroke="#b54aa9" stroke-width="1.25"/>
<rect x="239.10" y="352.70" width="5.00" height="5.00" fill="#b54aa9" stroke="#fff" stroke-width="2.4" paint-order="stroke"/>
<text transform="translate(250.80,357.70) scale(1,1.1)" font-size="7.7" text-anchor="start" font-weight="bold" fill="#111" stroke="#111" stroke-width="0.18" >CdSe/[2Fe2S]</text>
<line x1="234.10" y1="363.80" x2="249.30" y2="363.80" stroke="#1f4ca5" stroke-width="1.25"/>
<circle cx="241.60" cy="363.80" r="2.50" fill="#1f4ca5" stroke="#fff" stroke-width="2.4" paint-order="stroke"/>
<text transform="translate(250.80,366.30) scale(1,1.1)" font-size="7.7" text-anchor="start" font-weight="bold" fill="#111" stroke="#111" stroke-width="0.18" >CdSe/[3Fe2Te]</text>
<text transform="translate(311.60,489.40) scale(1,1.0)" font-size="8.9" text-anchor="middle" font-weight="bold" fill="#111" stroke="#111" stroke-width="0.15" >Time (h)</text>
<text transform="translate(207.90,453.80) scale(1.12,1) rotate(-90)" font-size="9.0" font-weight="bold" fill="#111" stroke="#111" stroke-width="0.15">H<tspan font-size="5.58" dy="2.25" dx="0.2">2</tspan><tspan dy="-2.25"> production (μmol)</tspan></text>
<text x="203.50" y="341.10" font-size="13.5" fill="#222"><tspan font-family="Liberation Serif" font-size="14.58">(</tspan><tspan dx="1.1">f</tspan><tspan dx="1.3" font-family="Liberation Serif" font-size="14.58">)</tspan></text>
</svg></body></html>
